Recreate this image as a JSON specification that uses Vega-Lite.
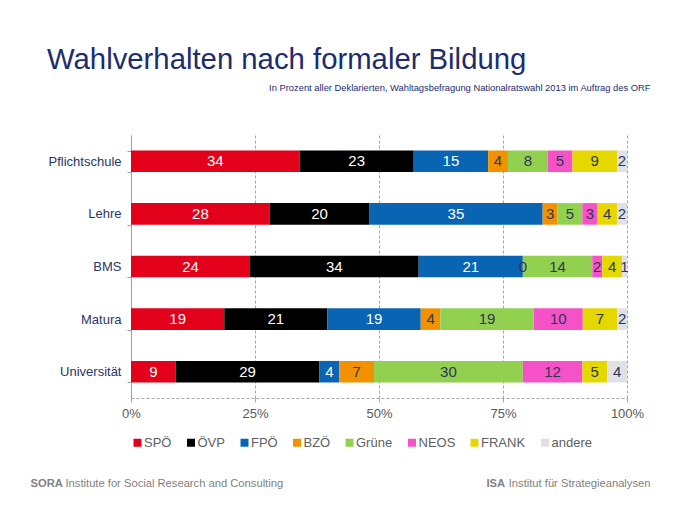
{
  "$schema": "https://vega.github.io/schema/vega-lite/v6.json",
  "autosize": "none",
  "width": 496,
  "height": 263,
  "padding": {"left": 131, "top": 135, "right": 53, "bottom": 112},
  "background": "white",
  "title": {
    "text": "Wahlverhalten nach formaler Bildung",
    "anchor": "start",
    "frame": "group",
    "dx": -84,
    "offset": 8,
    "fontSize": 29.3,
    "fontWeight": "normal",
    "color": "#1d2c6f",
    "font": "Liberation Sans"
  },
  "config": {
    "font": "Liberation Sans",
    "view": {"stroke": null}
  },
  "data": {
    "values": [
      {"Bildung": "Pflichtschule", "Partei": "SPÖ", "Anteil": 34},
      {"Bildung": "Pflichtschule", "Partei": "ÖVP", "Anteil": 23},
      {"Bildung": "Pflichtschule", "Partei": "FPÖ", "Anteil": 15},
      {"Bildung": "Pflichtschule", "Partei": "BZÖ", "Anteil": 4},
      {"Bildung": "Pflichtschule", "Partei": "Grüne", "Anteil": 8},
      {"Bildung": "Pflichtschule", "Partei": "NEOS", "Anteil": 5},
      {"Bildung": "Pflichtschule", "Partei": "FRANK", "Anteil": 9},
      {"Bildung": "Pflichtschule", "Partei": "andere", "Anteil": 2},
      {"Bildung": "Lehre", "Partei": "SPÖ", "Anteil": 28},
      {"Bildung": "Lehre", "Partei": "ÖVP", "Anteil": 20},
      {"Bildung": "Lehre", "Partei": "FPÖ", "Anteil": 35},
      {"Bildung": "Lehre", "Partei": "BZÖ", "Anteil": 3},
      {"Bildung": "Lehre", "Partei": "Grüne", "Anteil": 5},
      {"Bildung": "Lehre", "Partei": "NEOS", "Anteil": 3},
      {"Bildung": "Lehre", "Partei": "FRANK", "Anteil": 4},
      {"Bildung": "Lehre", "Partei": "andere", "Anteil": 2},
      {"Bildung": "BMS", "Partei": "SPÖ", "Anteil": 24},
      {"Bildung": "BMS", "Partei": "ÖVP", "Anteil": 34},
      {"Bildung": "BMS", "Partei": "FPÖ", "Anteil": 21},
      {"Bildung": "BMS", "Partei": "BZÖ", "Anteil": 0},
      {"Bildung": "BMS", "Partei": "Grüne", "Anteil": 14},
      {"Bildung": "BMS", "Partei": "NEOS", "Anteil": 2},
      {"Bildung": "BMS", "Partei": "FRANK", "Anteil": 4},
      {"Bildung": "BMS", "Partei": "andere", "Anteil": 1},
      {"Bildung": "Matura", "Partei": "SPÖ", "Anteil": 19},
      {"Bildung": "Matura", "Partei": "ÖVP", "Anteil": 21},
      {"Bildung": "Matura", "Partei": "FPÖ", "Anteil": 19},
      {"Bildung": "Matura", "Partei": "BZÖ", "Anteil": 4},
      {"Bildung": "Matura", "Partei": "Grüne", "Anteil": 19},
      {"Bildung": "Matura", "Partei": "NEOS", "Anteil": 10},
      {"Bildung": "Matura", "Partei": "FRANK", "Anteil": 7},
      {"Bildung": "Matura", "Partei": "andere", "Anteil": 2},
      {"Bildung": "Universität", "Partei": "SPÖ", "Anteil": 9},
      {"Bildung": "Universität", "Partei": "ÖVP", "Anteil": 29},
      {"Bildung": "Universität", "Partei": "FPÖ", "Anteil": 4},
      {"Bildung": "Universität", "Partei": "BZÖ", "Anteil": 7},
      {"Bildung": "Universität", "Partei": "Grüne", "Anteil": 30},
      {"Bildung": "Universität", "Partei": "NEOS", "Anteil": 12},
      {"Bildung": "Universität", "Partei": "FRANK", "Anteil": 5},
      {"Bildung": "Universität", "Partei": "andere", "Anteil": 4}
    ]
  },
  "transform": [
    {"calculate": "indexof(['SPÖ','ÖVP','FPÖ','BZÖ','Grüne','NEOS','FRANK','andere'], datum.Partei)", "as": "ord"},
    {"stack": "Anteil", "groupby": ["Bildung"], "sort": [{"field": "ord", "order": "ascending"}], "offset": "normalize", "as": ["x0", "x1"]},
    {"calculate": "(datum.x0 + datum.x1) / 2", "as": "xm"}
  ],
  "layer": [
    {
      "mark": {"type": "bar"},
      "encoding": {
        "y": {
          "field": "Bildung", "type": "nominal",
          "sort": ["Pflichtschule", "Lehre", "BMS", "Matura", "Universität"],
          "scale": {"paddingInner": 0.59},
          "axis": {
            "title": "In Prozent aller Deklarierten, Wahltagsbefragung Nationalratswahl 2013 im Auftrag des ORF",
            "titleAngle": 0, "titleX": 519, "titleY": -48, "titleAlign": "right", "titleBaseline": "middle",
            "titleFontSize": 9.35, "titleFontWeight": "normal", "titleColor": "#1d2c6f",
            "labelFontSize": 13, "labelColor": "#2b3566", "labelPadding": 6,
            "tickBand": "extent", "tickSize": 4, "tickColor": "#a0a0a0",
            "domainColor": "#a0a0a0", "grid": false
          }
        },
        "x": {
          "field": "x0", "type": "quantitative",
          "scale": {"domain": [0, 1], "nice": false},
          "axis": {
            "title": "SORA",
            "titleX": -101, "titleY": 85, "titleAlign": "left", "titleBaseline": "middle",
            "titleFontSize": 11.2, "titleFontWeight": "bold", "titleColor": "#7f7f7f",
            "values": [0, 0.25, 0.5, 0.75, 1], "format": ".0%", "labelFlush": false,
            "labelFontSize": 13, "labelColor": "#595959", "labelPadding": 5,
            "grid": true, "gridDash": [3, 2], "gridColor": "#a6a6a6",
            "domainDash": [3, 2], "domainColor": "#a6a6a6",
            "tickColor": "#a6a6a6", "tickSize": 4
          }
        },
        "x2": {"field": "x1"},
        "color": {
          "field": "Partei", "type": "nominal",
          "scale": {
            "domain": ["SPÖ", "ÖVP", "FPÖ", "BZÖ", "Grüne", "NEOS", "FRANK", "andere"],
            "range": ["#e2001a", "#000000", "#0a64b4", "#f39200", "#92d050", "#f652c8", "#e4d800", "#e0e1e7"]
          },
          "legend": {
            "orient": "none", "legendX": 0, "legendY": 301, "direction": "horizontal",
            "title": null, "symbolType": "square", "symbolSize": 64, "symbolStrokeWidth": 0,
            "labelFontSize": 13, "labelColor": "#606060", "labelOffset": 0, "columnPadding": 12.5, "padding": 0
          }
        }
      }
    },
    {
      "transform": [{"filter": "datum.ord < 3"}],
      "mark": {"type": "text", "color": "white", "fontSize": 15, "baseline": "middle", "align": "center"},
      "encoding": {
        "y": {
          "field": "Bildung", "type": "nominal",
          "sort": ["Pflichtschule", "Lehre", "BMS", "Matura", "Universität"],
          "axis": {
            "orient": "right", "labels": false, "ticks": false, "domain": false, "grid": false,
            "title": "ISA",
            "titleAngle": 0, "titleX": -141, "titleY": 348, "titleAlign": "left", "titleBaseline": "middle",
            "titleFontSize": 11.2, "titleFontWeight": "bold", "titleColor": "#7f7f7f"
          }
        },
        "x": {
          "field": "xm", "type": "quantitative",
          "axis": {
            "orient": "top", "labels": false, "ticks": false, "domain": false, "grid": false,
            "title": "Institute for Social Research and Consulting",
            "titleX": -66, "titleY": 348, "titleAlign": "left", "titleBaseline": "middle",
            "titleFontSize": 11.2, "titleFontWeight": "normal", "titleColor": "#7f7f7f"
          }
        },
        "text": {"field": "Anteil", "type": "quantitative"}
      }
    },
    {
      "transform": [{"filter": "datum.ord >= 3"}],
      "mark": {"type": "text", "color": "#2e3558", "fontSize": 15, "baseline": "middle", "align": "center"},
      "encoding": {
        "y": {
          "field": "Bildung", "type": "nominal",
          "sort": ["Pflichtschule", "Lehre", "BMS", "Matura", "Universität"],
          "axis": null
        },
        "x": {
          "field": "xm", "type": "quantitative",
          "axis": {
            "orient": "bottom", "labels": false, "ticks": false, "domain": false, "grid": false,
            "title": "Institut für Strategieanalysen",
            "titleX": 519, "titleY": 85, "titleAlign": "right", "titleBaseline": "middle",
            "titleFontSize": 11.2, "titleFontWeight": "normal", "titleColor": "#7f7f7f"
          }
        },
        "text": {"field": "Anteil", "type": "quantitative"}
      }
    }
  ],
  "resolve": {"axis": {"x": "independent", "y": "independent"}}
}
